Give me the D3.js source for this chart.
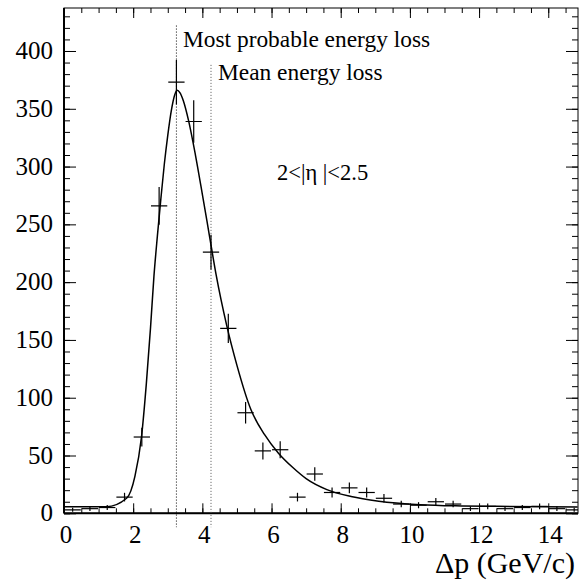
<!DOCTYPE html>
<html>
<head>
<meta charset="utf-8">
<script src="https://cdn.jsdelivr.net/npm/d3@7"></script>
<style>
body{margin:0;background:#fff;}
text{font-family:"Liberation Serif","Times New Roman",serif;fill:#000;}
</style>
</head>
<body>
<svg id="chart" width="580" height="586"></svg>
<script>
var svg = d3.select('#chart');

// histogram: bin centres (GeV/c) and counts
var binCenters = [0.25,0.75,1.25,1.75,2.25,2.75,3.25,3.75,4.25,4.75,
		5.25,5.75,6.25,6.75,7.25,7.75,8.25,8.75,9.25,9.75,
		10.25,10.75,11.25,11.75,12.25,12.75,13.25,13.75,14.25,14.75];
var counts = [3,4,5,14,66,266,373,339,226,160,
		87,54,55,14,34,18,22,18,13,8,
		7,10,8,4,6,4,5,6,4,3];
var binWidth = 0.5;

// fitted curve
var fitX = [0,1.23,1.81,2.05,2.24,2.38,2.5,2.6,2.7,2.8,2.9,3.0,3.1,3.2,3.27,3.35,3.45,3.6,3.8,4.0,
		4.2,4.4,4.7,5.0,5.4,5.8,6.2,6.6,7.0,7.6,8.3,9.1,10.3,11.5,12.5,14.85];
var fitY = [5.7,5.7,13,32,66,112,160,205,240,272,302,327,348,362,366,364,357,340,310,276,
		241,206,163,128,90,68,52,40,30,20.5,14.5,10.5,7.5,6.4,6.0,5.4];

var xTicks = [0,2,4,6,8,10,12,14];
var yTicks = [0,50,100,150,200,250,300,350,400];

// vertical markers: most probable and mean energy loss
var markerX = [3.25,4.25];
var markerTop = [422,388];
var markerBottom = -12;
var markerColor = ["#000","#555"];

var labels = ["Most probable energy loss","Mean energy loss","2<|\u03b7 |<2.5"];

var fL = 64, fT = 8, fR = 578, fB = 513.3;

var x = d3.scaleLinear().domain([0,14.86]).range([fL,fR]);
var y = d3.scaleLinear().domain([0,437.2]).range([fB,fT]);

svg.append("clipPath").attr("id","frameclip")
	.append("rect").attr("x",fL).attr("y",fT).attr("width",fR-fL).attr("height",fB-fT);

// axes with ticks pointing inward
var xMinor = d3.range(0,14.86,0.5);
var yMinor = d3.range(0,437,10);
svg.append("g").attr("transform","translate(0,"+fB+")")
	.call(d3.axisTop(x).tickValues(xMinor).tickSize(5).tickFormat(""));
svg.append("g").attr("transform","translate(0,"+fT+")")
	.call(d3.axisBottom(x).tickValues(xMinor).tickSize(5).tickFormat(""));
svg.append("g").attr("transform","translate("+fL+",0)")
	.call(d3.axisRight(y).tickValues(yMinor).tickSize(6).tickFormat(""));
svg.append("g").attr("transform","translate("+fR+",0)")
	.call(d3.axisLeft(y).tickValues(yMinor).tickSize(6).tickFormat(""));

svg.append("g").attr("transform","translate(0,"+fB+")")
	.call(d3.axisTop(x).tickValues(xTicks).tickSize(10).tickFormat(""));
svg.append("g").attr("transform","translate(0,"+fT+")")
	.call(d3.axisBottom(x).tickValues(xTicks).tickSize(10).tickFormat(""));
svg.append("g").attr("transform","translate("+fL+",0)")
	.call(d3.axisRight(y).tickValues(yTicks).tickSize(12).tickFormat(""));
svg.append("g").attr("transform","translate("+fR+",0)")
	.call(d3.axisLeft(y).tickValues(yTicks).tickSize(12).tickFormat(""));

svg.selectAll(".domain").remove();
svg.selectAll(".tick line").attr("stroke","#000").attr("stroke-width",1);

// frame
svg.append("rect").attr("x",fL).attr("y",fT).attr("width",fR-fL).attr("height",fB-fT)
	.attr("fill","none").attr("stroke","#000").attr("stroke-width",1);
svg.append("line").attr("x1",fL).attr("x2",fR).attr("y1",fB).attr("y2",fB)
	.attr("stroke","#000").attr("stroke-width",2);
svg.append("line").attr("x1",fL).attr("x2",fL).attr("y1",fT).attr("y2",fB)
	.attr("stroke","#000").attr("stroke-width",2);

// tick labels
svg.selectAll(".xlab").data(xTicks).enter().append("text")
	.attr("class","xlab")
	.attr("x",function(d){return x(d)+2;})
	.attr("y",543)
	.attr("text-anchor","middle")
	.style("font-size","25px")
	.text(function(d){return d;});

svg.selectAll(".ylab").data(yTicks).enter().append("text")
	.attr("class","ylab")
	.attr("x",53)
	.attr("y",function(d){return y(d)+8;})
	.attr("text-anchor","end")
	.style("font-size","25px")
	.text(function(d){return d;});

svg.append("text").attr("x",575).attr("y",573).attr("text-anchor","end")
	.style("font-size","30px").text("\u0394p (GeV/c)");

// dotted marker lines
svg.selectAll(".marker").data(markerX).enter().append("line")
	.attr("x1",function(d){return x(d);})
	.attr("x2",function(d){return x(d);})
	.attr("y1",function(d,i){return y(markerTop[i]);})
	.attr("y2",y(markerBottom))
	.attr("stroke",function(d,i){return markerColor[i];})
	.attr("stroke-width",1)
	.attr("stroke-dasharray","1,2");

// error crosses
var plot = svg.append("g").attr("clip-path","url(#frameclip)");
plot.selectAll(".hbar").data(counts).enter().append("line")
	.attr("x1",function(d,i){return x(binCenters[i]-binWidth/2)+0.5;})
	.attr("x2",function(d,i){return x(binCenters[i]+binWidth/2)-0.5;})
	.attr("y1",function(d){return y(d);})
	.attr("y2",function(d){return y(d);})
	.attr("stroke","#000").attr("stroke-width",1.2);
plot.selectAll(".vbar").data(counts).enter().append("line")
	.attr("x1",function(d,i){return x(binCenters[i]);})
	.attr("x2",function(d,i){return x(binCenters[i]);})
	.attr("y1",function(d){return y(Math.max(0,d-Math.sqrt(d)));})
	.attr("y2",function(d){return y(d+Math.sqrt(d));})
	.attr("stroke","#000").attr("stroke-width",1.2);

// fit curve
var line = d3.line()
	.x(function(d,i){return x(fitX[i]);})
	.y(function(d){return y(d);})
	.curve(d3.curveMonotoneX);
plot.append("path").datum(fitY).attr("d",line)
	.attr("fill","none").attr("stroke","#000").attr("stroke-width",1.5);

// annotations
svg.append("text").attr("x",183).attr("y",47).style("font-size","23.4px").text(labels[0]);
svg.append("text").attr("x",218).attr("y",80).style("font-size","23.4px").text(labels[1]);
svg.append("text").attr("x",277).attr("y",180).style("font-size","22.5px").text(labels[2]);
</script>
</body>
</html>
